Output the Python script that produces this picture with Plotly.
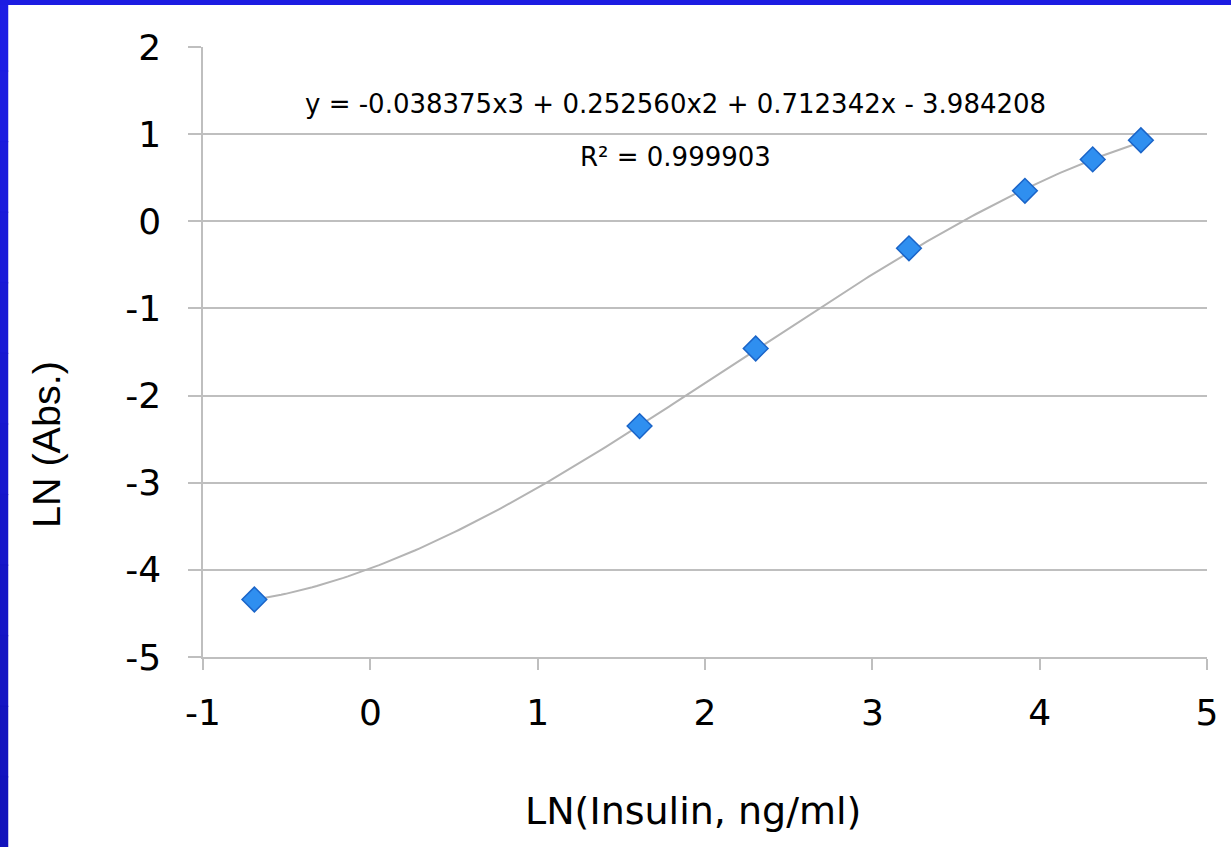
import plotly.graph_objects as go
import numpy as np

# Data: LN(Insulin, ng/ml) vs LN(Abs.)
ln_insulin = [-0.693, 1.609, 2.303, 3.219, 3.912, 4.317, 4.605]
ln_abs = [-4.34, -2.35, -1.46, -0.31, 0.35, 0.71, 0.93]

# Cubic trendline coefficients (as displayed on the chart)
coef = [-0.038375, 0.252560, 0.712342, -3.984208]
r_squared = "0.999903"

x_ticks = [-1, 0, 1, 2, 3, 4, 5]
x_ticktext = ["-1", "0", "1", "2", "3", "4", "5"]
y_ticks = [-5, -4, -3, -2, -1, 0, 1, 2]
y_ticktext = ["-5", "-4", "-3", "-2", "-1", "0", "1", "2"]

x_title = "LN(Insulin, ng/ml)"
y_title = "LN (Abs.)"

xs = np.linspace(min(ln_insulin), max(ln_insulin), 200)
ys = np.polyval(coef, xs)

FONT = "DejaVu Sans, Verdana, sans-serif"
FONT_Y = "Liberation Sans, Arial, sans-serif"

fig = go.Figure()
fig.add_trace(go.Scatter(x=xs, y=ys, mode="lines",
                         line=dict(color="#b4b4b4", width=2),
                         hoverinfo="skip", showlegend=False))
fig.add_trace(go.Scatter(x=ln_insulin, y=ln_abs, mode="markers",
                         marker=dict(symbol="diamond", size=19, color="#2f8ff0",
                                     line=dict(color="#1a64c8", width=1.5)),
                         showlegend=False))

W, H = 1231, 847
L, R, T, B = 203, 24, 47, 190
pw, ph = W - L - R, H - T - B
def px(xp): return (xp - L) / pw
def py(yp): return (H - B - yp) / ph

eq = "y = %.6fx3 + %.6fx2 + %.6fx - %.6f" % (coef[0], coef[1], coef[2], -coef[3])
fig.add_annotation(x=px(675), y=py(104), xref="paper", yref="paper",
                   xanchor="center", yanchor="middle",
                   text=eq, showarrow=False, font=dict(size=26, color="black", family=FONT))
fig.add_annotation(x=px(675), y=py(157), xref="paper", yref="paper",
                   xanchor="center", yanchor="middle",
                   text="R² = " + r_squared, showarrow=False,
                   font=dict(size=26, color="black", family=FONT))

# Axis titles
fig.add_annotation(x=px(693), y=py(811), xref="paper", yref="paper",
                   xanchor="center", yanchor="middle", showarrow=False,
                   text=x_title, font=dict(size=38, color="black", family=FONT))
fig.add_annotation(x=px(46), y=py(445), xref="paper", yref="paper",
                   xanchor="center", yanchor="middle", showarrow=False, textangle=-90,
                   text=y_title, font=dict(size=39.5, color="black", family=FONT_Y))

# Blue border (left and top strips), slight vertical gradient
shapes = []
n = 12
for i in range(n):
    y0p = i * H / n
    y1p = (i + 1) * H / n + 1
    f = i / (n - 1)
    r = int(0x1d + (0x12 - 0x1d) * f)
    g = int(0x1d + (0x12 - 0x1d) * f)
    b = int(0xe4 + (0xbc - 0xe4) * f)
    shapes.append(dict(type="rect", xref="paper", yref="paper",
                       x0=px(0), x1=px(8), y0=py(y1p), y1=py(y0p),
                       fillcolor="rgb(%d,%d,%d)" % (r, g, b),
                       line=dict(width=0.5, color="rgb(%d,%d,%d)" % (r, g, b)), layer="above"))
shapes.append(dict(type="rect", xref="paper", yref="paper",
                   x0=px(0), x1=px(W), y0=py(5), y1=py(0),
                   fillcolor="#1c1ce2", line=dict(width=0), layer="above"))

fig.update_layout(
    width=W, height=H,
    margin=dict(l=L, r=R, t=T, b=B),
    paper_bgcolor="white", plot_bgcolor="white",
    font=dict(family=FONT, color="black"),
    shapes=shapes,
    xaxis=dict(range=[-1, 5], tickvals=x_ticks, ticktext=x_ticktext, ticks="outside",
               ticklen=11, tickcolor="#bfbfbf", tickwidth=1.5, showgrid=False,
               zeroline=False, showline=True, linecolor="#bfbfbf", linewidth=1.5,
               tickfont=dict(size=36), ticklabelstandoff=12, fixedrange=True),
    yaxis=dict(range=[-5, 2], tickvals=y_ticks, ticktext=y_ticktext, ticks="outside",
               ticklen=13, tickcolor="#bfbfbf", tickwidth=1.5, showgrid=True,
               gridcolor="#bfbfbf", gridwidth=1.5, zeroline=False, showline=True,
               linecolor="#bfbfbf", linewidth=1.5, tickfont=dict(size=36),
               ticklabelstandoff=20, fixedrange=True),
)

fig.write_html("out.html", config={"displayModeBar": False},
               post_script="document.body.style.margin='0';")
